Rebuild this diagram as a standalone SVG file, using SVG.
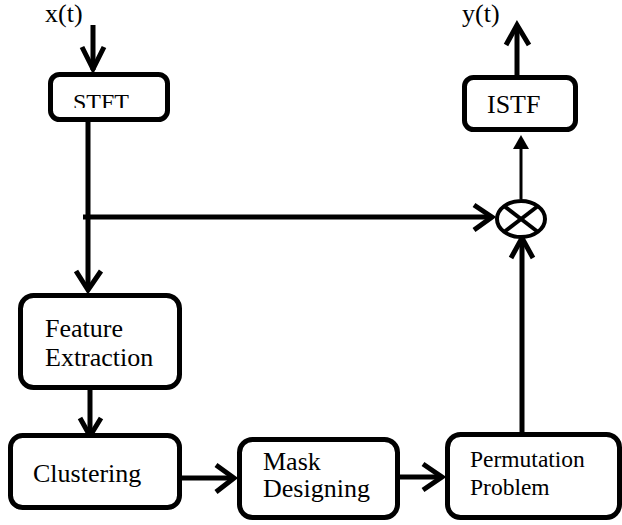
<svg xmlns="http://www.w3.org/2000/svg" width="622" height="525" viewBox="0 0 622 525">
<style>
.box{fill:#fff;stroke:#000;stroke-width:5}
text{font-family:'Liberation Serif','Times New Roman','DejaVu Serif',serif;font-size:26px;fill:#000}
.ln{stroke:#000;stroke-width:5;fill:none}
.thin{stroke:#000;stroke-width:3;fill:none}
.hd{stroke:#000;stroke-width:5;fill:none;stroke-linejoin:miter;stroke-linecap:butt}
</style>
<defs>
<clipPath id="stftclip"><rect x="50" y="74" width="118" height="34"/></clipPath>
</defs>
<rect width="622" height="525" fill="#fff"/>
<g font-family="Liberation Serif, serif">
<text x="45" y="22">x(t)</text>
<text x="462" y="22">y(t)</text>
</g>
<g id="connectors">
<line class="ln" x1="93" y1="25" x2="93" y2="70"/>
<path class="hd" d="M82,47 L93,69 L104,47"/>
<line class="ln" x1="88" y1="119" x2="88" y2="290"/>
<path class="hd" d="M76,271 L88,290 L101,271"/>
<line class="ln" x1="83" y1="217" x2="492" y2="217"/>
<path class="hd" d="M474,205 L492,217 L474,230"/>
<line class="ln" x1="90" y1="388" x2="90" y2="434"/>
<path class="hd" d="M80,418 L90,436 L101,418"/>
<line class="ln" x1="180" y1="478" x2="234" y2="478"/>
<path class="hd" d="M216,465 L234,478 L216,492"/>
<line class="ln" x1="398" y1="477" x2="442" y2="477"/>
<path class="hd" d="M423,464 L442,477 L423,490"/>
<line class="ln" x1="522" y1="432" x2="522" y2="238"/>
<path class="hd" d="M511,258 L522,238 L533,258"/>
<line class="thin" x1="521" y1="199" x2="521" y2="140"/>
<path d="M513,149 L521,135 L529,149 Z" fill="#000"/>
<line class="ln" x1="517" y1="76" x2="517" y2="26"/>
<path class="hd" d="M506,45 L517,25 L529,45"/>
</g>
<g id="stft" font-family="Liberation Serif, serif">
<rect class="box" x="50.5" y="74.5" width="117" height="45" rx="9"/>
<text x="73" y="110" style="font-size:24px" clip-path="url(#stftclip)">STFT</text>
</g>
<g id="istf" font-family="Liberation Serif, serif">
<rect class="box" x="464.5" y="77.5" width="111" height="52" rx="9"/>
<text x="487" y="113">ISTF</text>
</g>
<g id="multiplier">
<ellipse cx="521" cy="219" rx="24" ry="18" fill="#fff" stroke="#000" stroke-width="4"/>
<line x1="504" y1="206" x2="538" y2="232" stroke="#000" stroke-width="4"/>
<line x1="538" y1="206" x2="504" y2="232" stroke="#000" stroke-width="4"/>
</g>
<g id="feature" font-family="Liberation Serif, serif">
<rect class="box" x="20.5" y="295.5" width="159" height="92" rx="13"/>
<text x="45" y="337">Feature</text>
<text x="45" y="366">Extraction</text>
</g>
<g id="clustering" font-family="Liberation Serif, serif">
<rect class="box" x="10.5" y="435.5" width="169" height="72" rx="12"/>
<text x="33" y="482">Clustering</text>
</g>
<g id="mask" font-family="Liberation Serif, serif">
<rect class="box" x="239.5" y="439.5" width="158" height="78" rx="13"/>
<text x="263" y="470">Mask</text>
<text x="263" y="497">Designing</text>
</g>
<g id="permutation" font-family="Liberation Serif, serif">
<rect class="box" x="447.5" y="434.5" width="172" height="83" rx="13"/>
<text x="470" y="467" style="font-size:23.5px">Permutation</text>
<text x="470" y="495" style="font-size:23.5px">Problem</text>
</g>
</svg>
